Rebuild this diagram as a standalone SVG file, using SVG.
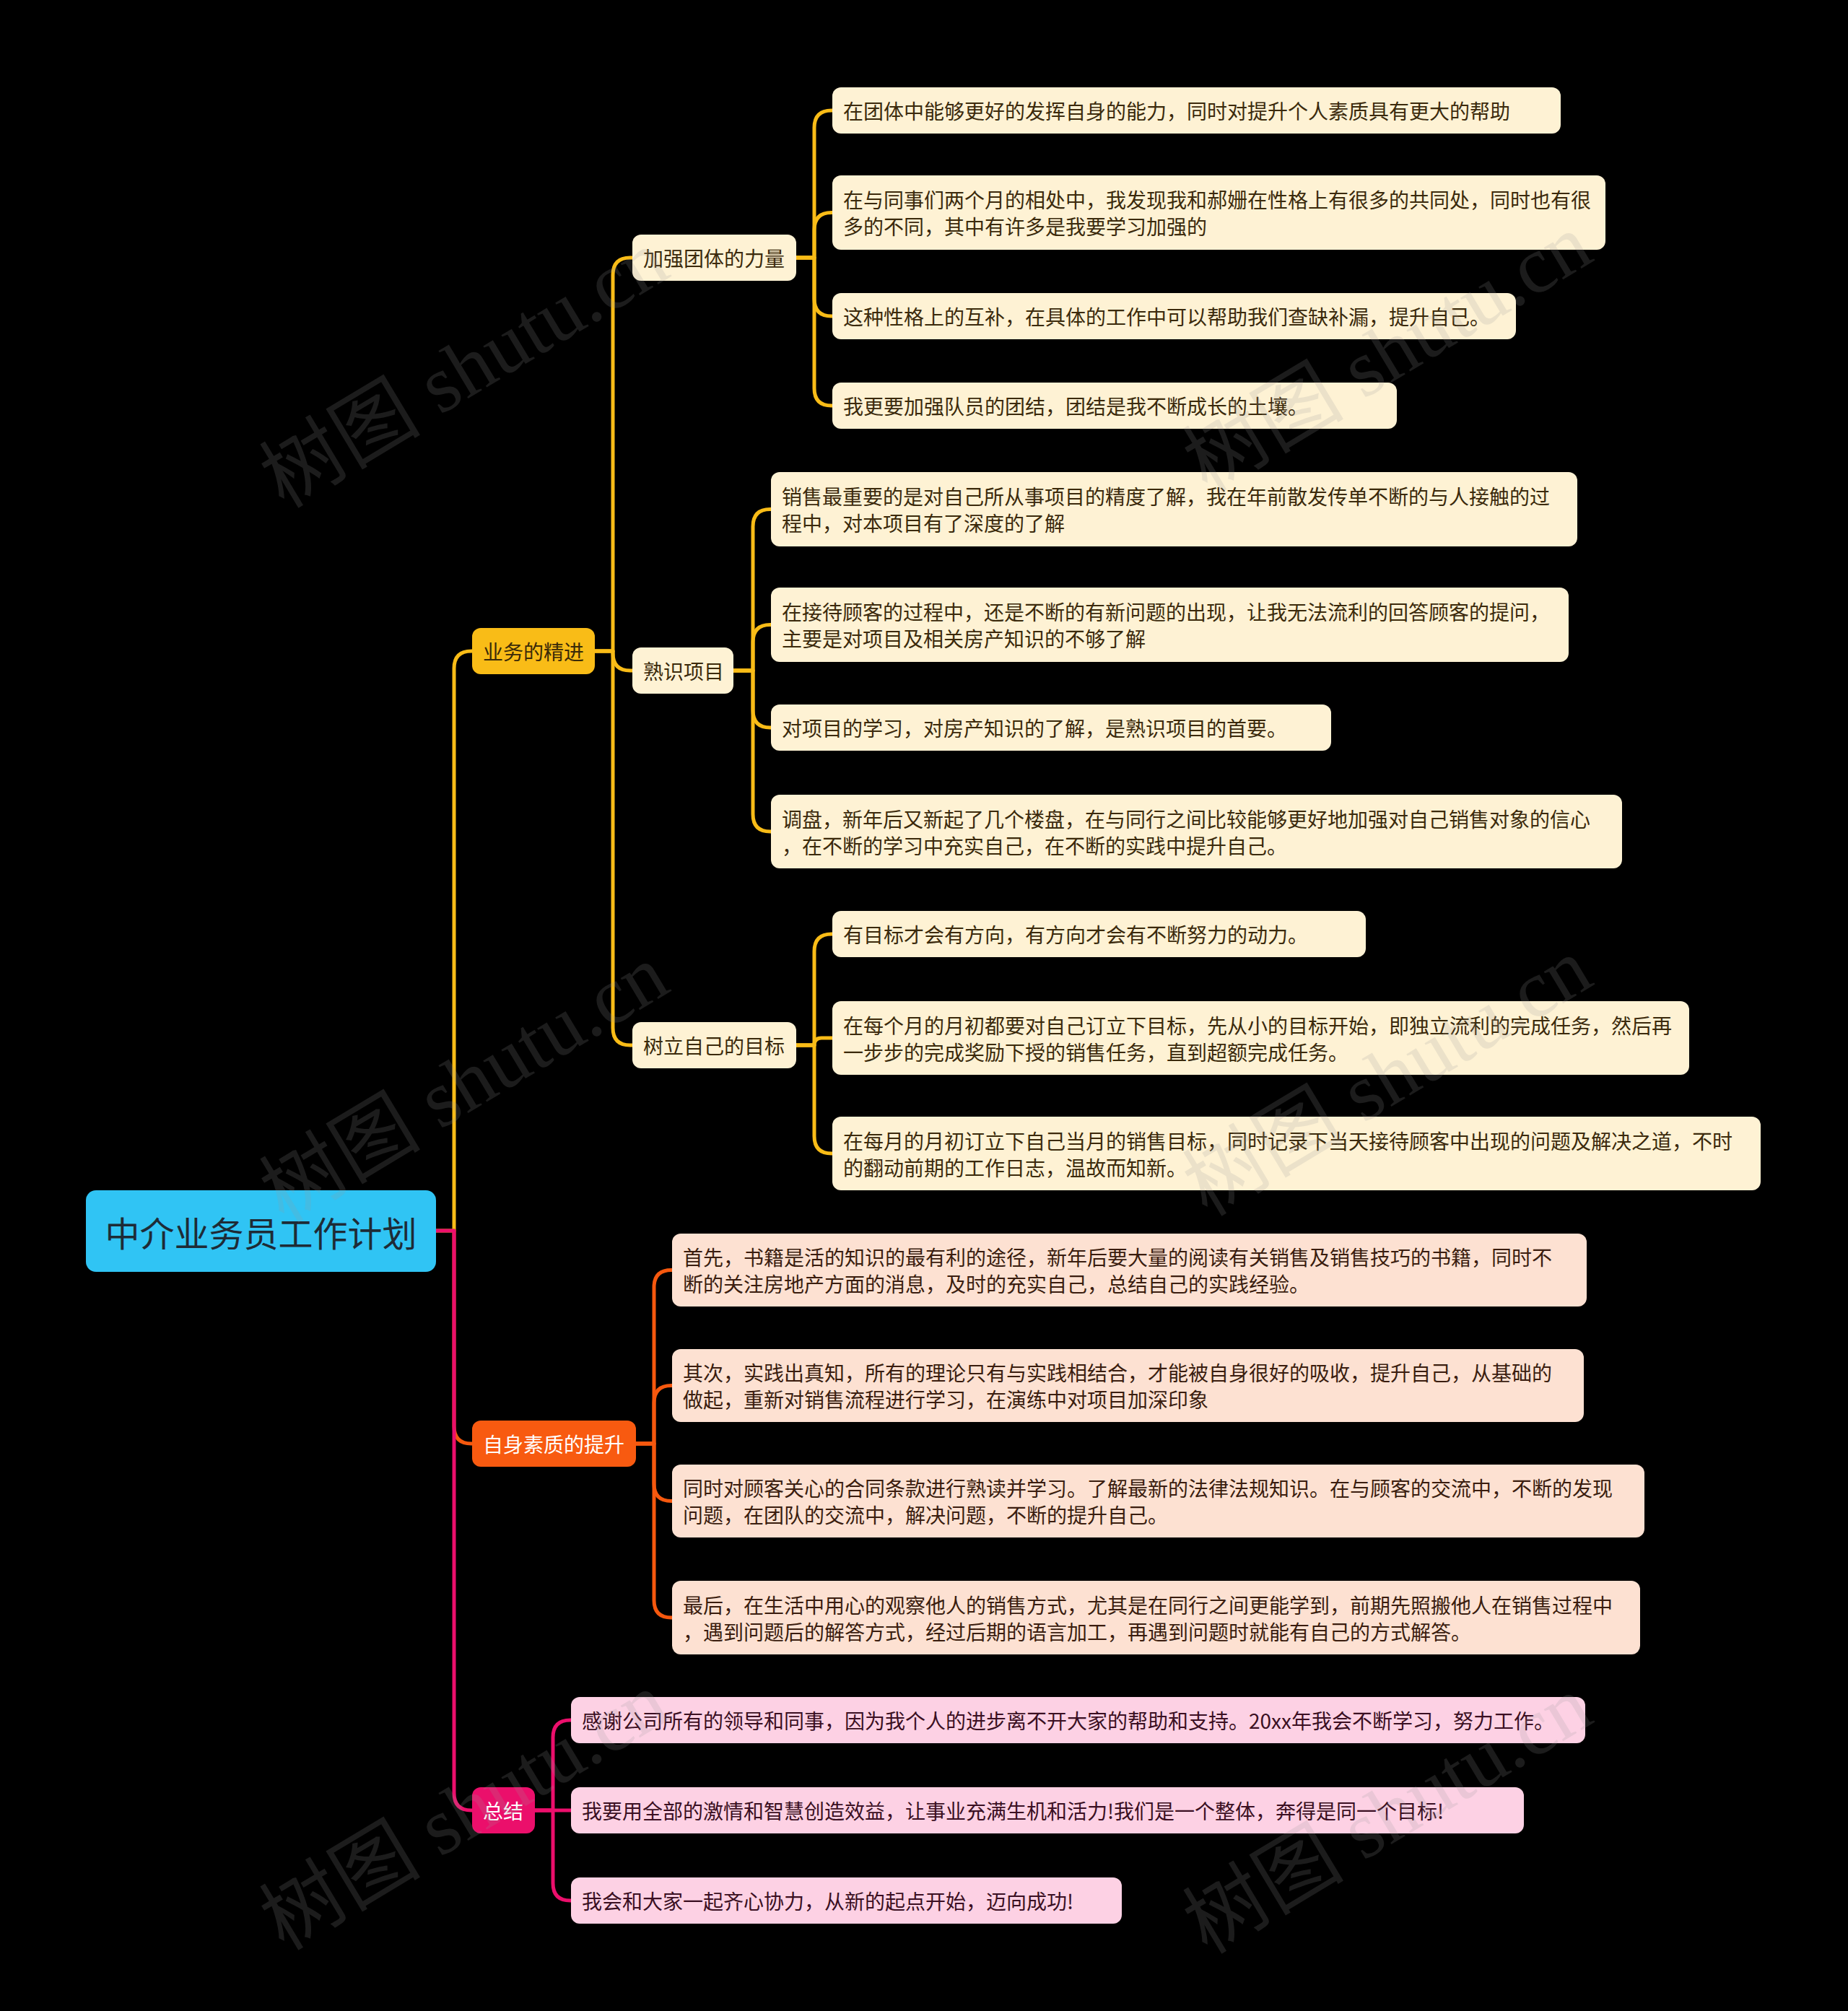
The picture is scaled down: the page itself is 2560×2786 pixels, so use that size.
<svg xmlns="http://www.w3.org/2000/svg" width="2560" height="2786" viewBox="0 0 2560 2786">
<style>
text{font-family:"Noto Sans CJK SC","Liberation Sans",sans-serif;dominant-baseline:central}
.c{fill:none;stroke-width:5;stroke-linecap:round;stroke-linejoin:round}
.cy{stroke:#F9BC17}.co{stroke:#F6580E}.cp{stroke:#EC0F6C}
.root rect{fill:#30C4F4}
.root text{font-size:48px;fill:#1E2B36;text-anchor:middle}
.l1y rect{fill:#F9BC17}.l1o rect{fill:#F85A10}.l1p rect{fill:#EB0F6B}
.l1y text{font-size:28px;fill:#3A2A08}
.l1o text,.l1p text{font-size:28px;fill:#FFFFFF}
.ly rect{fill:#FEF2D4}.ly text{font-size:28px;fill:#3B2A0C}
.lo rect{fill:#FDE1D2}.lo text{font-size:28px;fill:#3A1D0F}
.lp rect{fill:#FDD1E4}.lp text{font-size:28px;fill:#3A0F22}
.wm{font-family:"Liberation Serif","Noto Sans CJK SC",serif;font-size:112px;fill:#9a9a9a;opacity:0.18;text-anchor:middle}
</style>
<rect x="0" y="0" width="2560" height="2786" fill="#000000"/>

<g id="connectors">
<path class="c cy" d="M604 1705 H629 V926 Q629 902 653 902 H656"/>
<path class="c co" d="M629 1705 V1976 Q629 2000 653 2000 H656"/>
<path class="c cp" d="M604 1705 H629 V2484 Q629 2508 653 2508 H656"/>

<path class="c cy" d="M824 902 H849 V381 Q849 357 873 357 H878"/>
<path class="c cy" d="M824 902 H849 V905 Q849 929 873 929 H878"/>
<path class="c cy" d="M824 902 H849 V1424 Q849 1448 873 1448 H878"/>

<path class="c cy" d="M1103 357 H1128 V177 Q1128 153 1152 153 H1155"/>
<path class="c cy" d="M1103 357 H1128 V318.5 Q1128 294.5 1152 294.5 H1155"/>
<path class="c cy" d="M1103 357 H1128 V414 Q1128 438 1152 438 H1155"/>
<path class="c cy" d="M1103 357 H1128 V538 Q1128 562 1152 562 H1155"/>

<path class="c cy" d="M1016 929 H1043 V729.5 Q1043 705.5 1067 705.5 H1070"/>
<path class="c cy" d="M1016 929 H1043 V889.5 Q1043 865.5 1067 865.5 H1070"/>
<path class="c cy" d="M1016 929 H1043 V984 Q1043 1008 1067 1008 H1070"/>
<path class="c cy" d="M1016 929 H1043 V1128 Q1043 1152 1067 1152 H1070"/>

<path class="c cy" d="M1103 1448 H1128 V1318 Q1128 1294 1152 1294 H1155"/>
<path class="c cy" d="M1103 1448 H1128 V1448 Q1128 1438 1138 1438 H1155"/>
<path class="c cy" d="M1103 1448 H1128 V1574 Q1128 1598 1152 1598 H1155"/>

<path class="c co" d="M881 2000 H906 V1783.5 Q906 1759.5 930 1759.5 H933"/>
<path class="c co" d="M881 2000 H906 V1943.5 Q906 1919.5 930 1919.5 H933"/>
<path class="c co" d="M881 2000 H906 V2055.5 Q906 2079.5 930 2079.5 H933"/>
<path class="c co" d="M881 2000 H906 V2217 Q906 2241 930 2241 H933"/>

<path class="c cp" d="M741 2508 H766 V2407 Q766 2383 790 2383 H793"/>
<path class="c cp" d="M741 2508 H793"/>
<path class="c cp" d="M741 2508 H766 V2609 Q766 2633 790 2633 H793"/>
</g>

<g id="root" class="root"><rect x="119" y="1649" width="485" height="113" rx="14"/><text x="361.5" y="1705.5">中介业务员工作计划</text></g>

<g id="n-yewu" class="l1y"><rect x="654" y="870" width="170" height="64" rx="12"/><text x="669" y="902">业务的精进</text></g>
<g id="n-suzhi" class="l1o"><rect x="654" y="1968" width="227" height="64" rx="12"/><text x="669" y="2000">自身素质的提升</text></g>
<g id="n-zongjie" class="l1p"><rect x="654" y="2476" width="87" height="64" rx="12"/><text x="669" y="2508">总结</text></g>

<g id="n-tuanti" class="ly"><rect x="876" y="325" width="227" height="64" rx="12"/><text x="891" y="357">加强团体的力量</text></g>
<g id="n-shuxi" class="ly"><rect x="876" y="897" width="140" height="64" rx="12"/><text x="891" y="929">熟识项目</text></g>
<g id="n-mubiao" class="ly"><rect x="876" y="1416" width="227" height="64" rx="12"/><text x="891" y="1448">树立自己的目标</text></g>

<g id="a1" class="ly"><rect x="1153" y="121" width="1009" height="64" rx="12"/><text x="1168" y="153">在团体中能够更好的发挥自身的能力，同时对提升个人素质具有更大的帮助</text></g>
<g id="a2" class="ly"><rect x="1153" y="243" width="1071" height="103" rx="12"/><text x="1168" y="276">在与同事们两个月的相处中，我发现我和郝姗在性格上有很多的共同处，同时也有很</text><text x="1168" y="313">多的不同，其中有许多是我要学习加强的</text></g>
<g id="a3" class="ly"><rect x="1153" y="406" width="947" height="64" rx="12"/><text x="1168" y="438">这种性格上的互补，在具体的工作中可以帮助我们查缺补漏，提升自己。</text></g>
<g id="a4" class="ly"><rect x="1153" y="530" width="782" height="64" rx="12"/><text x="1168" y="562">我更要加强队员的团结，团结是我不断成长的土壤。</text></g>

<g id="b1" class="ly"><rect x="1068" y="654" width="1117" height="103" rx="12"/><text x="1083" y="687">销售最重要的是对自己所从事项目的精度了解，我在年前散发传单不断的与人接触的过</text><text x="1083" y="724">程中，对本项目有了深度的了解</text></g>
<g id="b2" class="ly"><rect x="1068" y="814" width="1105" height="103" rx="12"/><text x="1083" y="847">在接待顾客的过程中，还是不断的有新问题的出现，让我无法流利的回答顾客的提问，</text><text x="1083" y="884">主要是对项目及相关房产知识的不够了解</text></g>
<g id="b3" class="ly"><rect x="1068" y="976" width="776" height="64" rx="12"/><text x="1083" y="1008">对项目的学习，对房产知识的了解，是熟识项目的首要。</text></g>
<g id="b4" class="ly"><rect x="1068" y="1101" width="1179" height="102" rx="12"/><text x="1083" y="1133.5">调盘，新年后又新起了几个楼盘，在与同行之间比较能够更好地加强对自己销售对象的信心</text><text x="1083" y="1170.5">，在不断的学习中充实自己，在不断的实践中提升自己。</text></g>

<g id="c1" class="ly"><rect x="1153" y="1262" width="739" height="64" rx="12"/><text x="1168" y="1294">有目标才会有方向，有方向才会有不断努力的动力。</text></g>
<g id="c2" class="ly"><rect x="1153" y="1387" width="1187" height="102" rx="12"/><text x="1168" y="1419.5">在每个月的月初都要对自己订立下目标，先从小的目标开始，即独立流利的完成任务，然后再</text><text x="1168" y="1456.5">一步步的完成奖励下授的销售任务，直到超额完成任务。</text></g>
<g id="c3" class="ly"><rect x="1153" y="1547" width="1286" height="102" rx="12"/><text x="1168" y="1579.5">在每月的月初订立下自己当月的销售目标，同时记录下当天接待顾客中出现的问题及解决之道，不时</text><text x="1168" y="1616.5">的翻动前期的工作日志，温故而知新。</text></g>

<g id="d1" class="lo"><rect x="931" y="1709" width="1267" height="101" rx="12"/><text x="946" y="1741">首先，书籍是活的知识的最有利的途径，新年后要大量的阅读有关销售及销售技巧的书籍，同时不</text><text x="946" y="1778">断的关注房地产方面的消息，及时的充实自己，总结自己的实践经验。</text></g>
<g id="d2" class="lo"><rect x="931" y="1869" width="1263" height="101" rx="12"/><text x="946" y="1901">其次，实践出真知，所有的理论只有与实践相结合，才能被自身很好的吸收，提升自己，从基础的</text><text x="946" y="1938">做起，重新对销售流程进行学习，在演练中对项目加深印象</text></g>
<g id="d3" class="lo"><rect x="931" y="2029" width="1347" height="101" rx="12"/><text x="946" y="2061">同时对顾客关心的合同条款进行熟读并学习。了解最新的法律法规知识。在与顾客的交流中，不断的发现</text><text x="946" y="2098">问题，在团队的交流中，解决问题，不断的提升自己。</text></g>
<g id="d4" class="lo"><rect x="931" y="2190" width="1341" height="102" rx="12"/><text x="946" y="2222.5">最后，在生活中用心的观察他人的销售方式，尤其是在同行之间更能学到，前期先照搬他人在销售过程中</text><text x="946" y="2259.5">，遇到问题后的解答方式，经过后期的语言加工，再遇到问题时就能有自己的方式解答。</text></g>

<g id="e1" class="lp"><rect x="791" y="2351" width="1405" height="64" rx="12"/><text x="806" y="2383">感谢公司所有的领导和同事，因为我个人的进步离不开大家的帮助和支持。20xx年我会不断学习，努力工作。</text></g>
<g id="e2" class="lp"><rect x="791" y="2476" width="1320" height="64" rx="12"/><text x="806" y="2508">我要用全部的激情和智慧创造效益，让事业充满生机和活力!我们是一个整体，奔得是同一个目标!</text></g>
<g id="e3" class="lp"><rect x="791" y="2601" width="763" height="64" rx="12"/><text x="806" y="2633">我会和大家一起齐心协力，从新的起点开始，迈向成功!</text></g>

<g id="watermarks">
<text class="wm" transform="translate(643 511) rotate(-31)">树图 shutu.cn</text>
<text class="wm" transform="translate(643 1501) rotate(-31)">树图 shutu.cn</text>
<text class="wm" transform="translate(643 2509) rotate(-31)">树图 shutu.cn</text>
<text class="wm" transform="translate(1922 489) rotate(-31)">树图 shutu.cn</text>
<text class="wm" transform="translate(1922 1492) rotate(-31)">树图 shutu.cn</text>
<text class="wm" transform="translate(1922 2514) rotate(-31)">树图 shutu.cn</text>
</g>
</svg>
